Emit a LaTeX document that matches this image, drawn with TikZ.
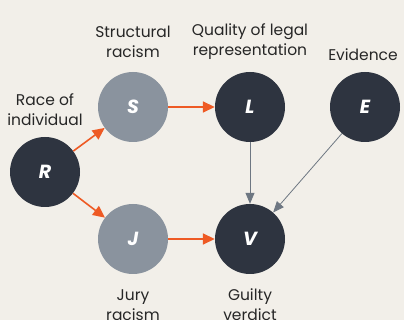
\documentclass[tikz,border=0pt]{standalone}
\usepackage{fontspec}
\setmainfont{Poppins}
\usepackage{xcolor}
\usetikzlibrary{arrows.meta}
\definecolor{bgcol}{HTML}{F2EFE9}
\definecolor{darkcol}{HTML}{2E3440}
\definecolor{greycol}{HTML}{8A939E}
\definecolor{redcol}{HTML}{EE5A24}
\definecolor{linecol}{HTML}{6E7782}

\begin{document}
\begin{tikzpicture}[x=1pt,y=-1pt,
    var/.style={circle,minimum size=70pt,inner sep=0pt,text=white,
      font=\fontsize{19}{19}\selectfont\bfseries\itshape},
    obs/.style={var,fill=darkcol},
    hid/.style={var,fill=greycol},
    lbl/.style={align=center,text=black!85,font=\fontsize{15.5}{20}\selectfont},
    redarr/.style={-{Triangle[length=12pt,width=11pt]},redcol,line width=1.6pt},
    greyarr/.style={-{Triangle[length=11pt,width=9pt]},linecol,line width=0.8pt}]
    \fill [bgcol] (0,0) rectangle (404,320);
    \useasboundingbox (0,0) rectangle (404,320);
    % nodes
    \path (45,172) node [obs] (r) {R};
    \path (133,107) node [hid] (s) {S};
    \path (250,107) node [obs] (l) {L};
    \path (365,107) node [obs] (e) {E};
    \path (133,239) node [hid] (j) {J};
    \path (250,239) node [obs] (v) {V};
    % labels
    \path (45,110) node [lbl] (rlab) {Race of\\individual};
    \path (133,42) node [lbl] (slab) {Structural\\racism};
    \path (250,42) node [lbl] (llab) {Quality of legal\\representation};
    \path (363,55) node [lbl] (elab) {Evidence};
    \path (133,305) node [lbl] (jlab) {Jury\\racism};
    \path (250,305) node [lbl] (vlab) {Guilty\\verdict};
    % arrows
    \draw [redarr] (r) -- (s);
    \draw [redarr] (r) -- (j);
    \draw [redarr] (s) -- (l);
    \draw [redarr] (j) -- (v);
    \draw [greyarr] (l) -- (v);
    \draw [greyarr] (e) -- (v);
\end{tikzpicture}
\end{document}
